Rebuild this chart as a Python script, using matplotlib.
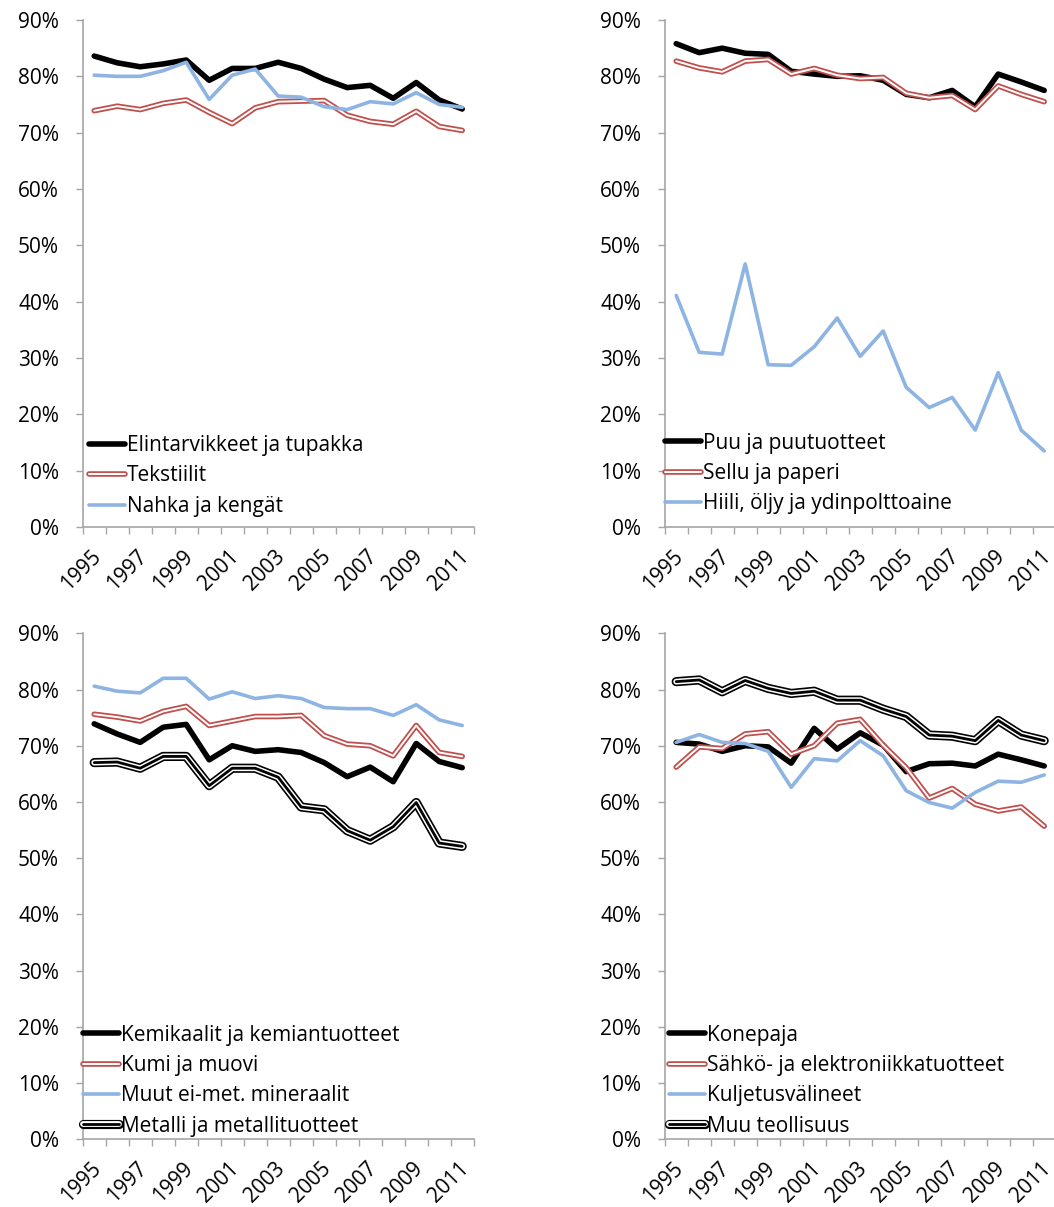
import numpy as np
import matplotlib
matplotlib.use("Agg")
import matplotlib.pyplot as plt
import matplotlib.patheffects as pe

plt.rcParams["font.family"] = ["Open Sans", "DejaVu Sans"]

years = list(range(1995, 2012))

# panel 1
elintarvikkeet = [83.6, 82.4, 81.7, 82.2, 82.9, 79.3, 81.4, 81.4, 82.5, 81.4, 79.5, 78.0, 78.4, 76.1, 78.9, 75.8, 74.2]
tekstiilit = [73.9, 74.7, 74.1, 75.2, 75.8, 73.6, 71.6, 74.4, 75.5, 75.6, 75.7, 73.1, 72.0, 71.5, 73.8, 71.1, 70.4]
nahka = [80.2, 80.0, 80.0, 81.0, 82.5, 75.9, 80.2, 81.3, 76.5, 76.3, 74.6, 74.1, 75.5, 75.1, 77.1, 75.0, 74.5]

# panel 2
puu = [85.8, 84.2, 85.0, 84.1, 83.9, 80.9, 80.4, 80.0, 80.1, 79.3, 76.8, 76.2, 77.5, 74.6, 80.4, 79.0, 77.5]
sellu = [82.7, 81.5, 80.8, 82.7, 83.0, 80.4, 81.4, 80.2, 79.6, 79.8, 77.0, 76.2, 76.6, 74.1, 78.3, 76.8, 75.5]
hiili = [41.1, 31.0, 30.7, 46.7, 28.8, 28.7, 32.0, 37.1, 30.3, 34.8, 24.8, 21.2, 23.0, 17.2, 27.4, 17.2, 13.5]

# panel 3
kemikaalit = [73.9, 72.1, 70.6, 73.3, 73.8, 67.5, 70.0, 69.0, 69.3, 68.8, 67.0, 64.5, 66.2, 63.6, 70.4, 67.2, 66.1]
kumi = [75.6, 75.1, 74.4, 76.1, 77.0, 73.6, 74.4, 75.2, 75.2, 75.4, 71.8, 70.3, 70.0, 68.2, 73.6, 68.8, 68.1]
mineraalit = [80.6, 79.7, 79.4, 82.0, 82.0, 78.3, 79.6, 78.4, 78.9, 78.4, 76.8, 76.6, 76.6, 75.4, 77.3, 74.6, 73.6]
metalli = [67.0, 67.1, 66.0, 68.1, 68.1, 62.9, 66.0, 66.0, 64.4, 59.1, 58.6, 54.9, 53.2, 55.6, 59.9, 52.7, 52.1]

# panel 4
konepaja = [70.6, 70.3, 69.0, 70.0, 69.8, 66.9, 73.1, 69.4, 72.3, 70.1, 65.4, 66.8, 66.9, 66.4, 68.5, 67.5, 66.4]
sahko = [66.2, 69.8, 69.5, 72.1, 72.5, 68.5, 70.0, 74.0, 74.7, 70.1, 66.1, 60.7, 62.4, 59.6, 58.4, 59.1, 55.7]
kuljetus = [70.6, 72.0, 70.6, 70.4, 69.0, 62.6, 67.7, 67.3, 70.9, 68.2, 62.0, 59.9, 58.9, 61.7, 63.7, 63.5, 64.8]
muu = [81.4, 81.7, 79.6, 81.6, 80.2, 79.3, 79.7, 78.1, 78.1, 76.5, 75.2, 71.9, 71.7, 70.9, 74.5, 71.9, 70.9]

RED = "#C0504D"
BLUE = "#8DB4E2"
GRAY = "#A6A6A6"


def style(kind):
    # line styles used by all four panels
    if kind == "black":
        return dict(color="black", lw=4.0)
    if kind == "blue":
        return dict(color=BLUE, lw=2.6)
    if kind == "red":
        return dict(color="white", lw=1.4,
                    path_effects=[pe.Stroke(linewidth=4.0, foreground=RED), pe.Normal()])
    if kind == "triple":
        return dict(color="black", lw=2.0,
                    path_effects=[pe.Stroke(linewidth=6.6, foreground="black"),
                                  pe.Stroke(linewidth=4.2, foreground="white"),
                                  pe.Normal()])


def make_panel(ax, series, legend_xy):
    x = np.arange(len(years)) + 0.5
    for name, vals, kind in series:
        ax.plot(x, vals, label=name, solid_capstyle="round", solid_joinstyle="round",
                **style(kind))
    ax.set_xlim(0, len(years))
    ax.set_ylim(0, 90)
    ax.set_yticks(np.arange(0, 91, 10))
    ax.set_yticklabels([f"{v}%" for v in range(0, 91, 10)])
    ax.set_xticks(np.arange(len(years) + 1))
    ax.set_xticklabels([])
    ax.set_xticks(x[::2] + 0.15, [str(y) for y in years[::2]], minor=True)
    ax.tick_params(which="both", labelsize=15)
    ax.tick_params(axis="x", which="minor", length=0, pad=19)
    ax.tick_params(axis="x", which="major", length=5, color=GRAY, width=1)
    ax.tick_params(axis="y", length=5, color=GRAY, width=1, pad=12)
    for lab in ax.get_xticklabels(minor=True):
        lab.set_rotation(45)
        lab.set_ha("right")
        lab.set_va("center")
        lab.set_rotation_mode("anchor")
    for s in ["top", "right"]:
        ax.spines[s].set_visible(False)
    for s in ["left", "bottom"]:
        ax.spines[s].set_color(GRAY)
        ax.spines[s].set_linewidth(1.2)
    leg = ax.legend(loc="lower left", bbox_to_anchor=legend_xy, frameon=False, fontsize=15,
                    handlelength=1.75, handletextpad=0.1, labelspacing=0.45,
                    borderpad=0, borderaxespad=0)
    for h in leg.get_lines():
        h.set_solid_capstyle("round")


fig = plt.figure(figsize=(10.54, 12.07), dpi=100)
W, H = 1054.0, 1207.0
ax1 = fig.add_axes([82.7 / W, 680 / H, 391 / W, 507 / H])
ax2 = fig.add_axes([664.7 / W, 680 / H, 391 / W, 507 / H])
ax3 = fig.add_axes([82.7 / W, 67.7 / H, 391 / W, 506 / H])
ax4 = fig.add_axes([664.7 / W, 67.7 / H, 391 / W, 506 / H])

make_panel(ax1, [("Elintarvikkeet ja tupakka", elintarvikkeet, "black"),
                 ("Tekstiilit", tekstiilit, "red"),
                 ("Nahka ja kengät", nahka, "blue")], (0.015, 0.02))
make_panel(ax2, [("Puu ja puutuotteet", puu, "black"),
                 ("Sellu ja paperi", sellu, "red"),
                 ("Hiili, öljy ja ydinpolttoaine", hiili, "blue")], (0.0, 0.025))
make_panel(ax3, [("Kemikaalit ja kemiantuotteet", kemikaalit, "black"),
                 ("Kumi ja muovi", kumi, "red"),
                 ("Muut ei-met. mineraalit", mineraalit, "blue"),
                 ("Metalli ja metallituotteet", metalli, "triple")], (0.0, 0.005))
make_panel(ax4, [("Konepaja", konepaja, "black"),
                 ("Sähkö- ja elektroniikkatuotteet", sahko, "red"),
                 ("Kuljetusvälineet", kuljetus, "blue"),
                 ("Muu teollisuus", muu, "triple")], (0.01, 0.005))

fig.savefig("out.png", dpi=100)
